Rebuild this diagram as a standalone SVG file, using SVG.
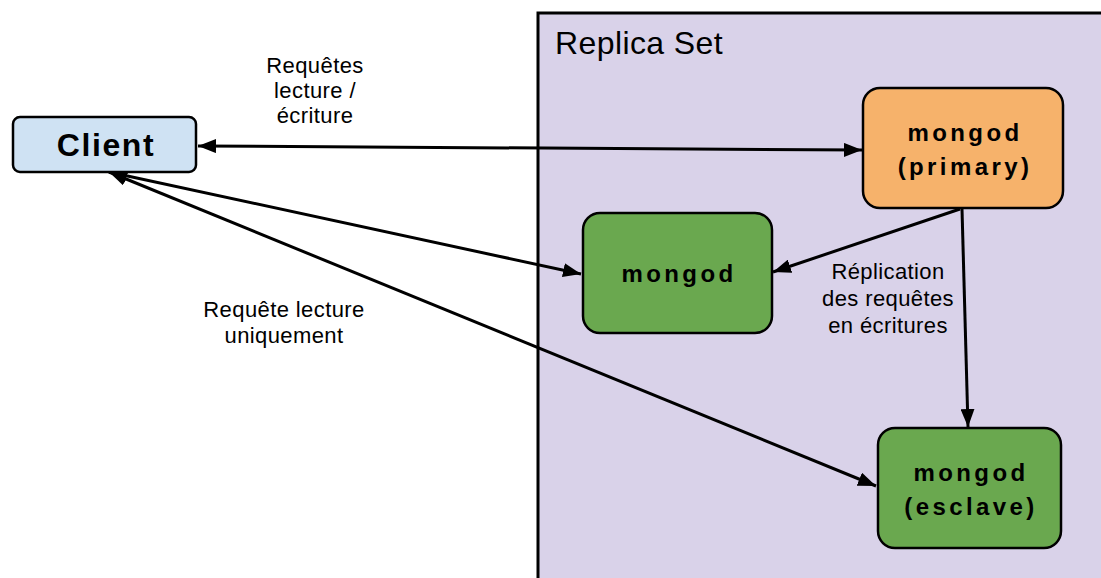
<svg xmlns="http://www.w3.org/2000/svg" width="1101" height="578" viewBox="0 0 1101 578">
  <defs>
    <marker id="arr" viewBox="0 0 18 14" refX="18" refY="7" markerWidth="18" markerHeight="14" markerUnits="userSpaceOnUse" orient="auto-start-reverse">
      <path d="M0,0 L18,7 L0,14 z" fill="#000"/>
    </marker>
    <style>
      .node { stroke: #000; stroke-width: 2.5; }
      .mtext { font-family: "Liberation Sans", Arial, sans-serif; font-weight: bold; font-size: 24px; letter-spacing: 3.4px; text-anchor: middle; fill: #000; }
      .label { font-family: "Liberation Sans", Arial, sans-serif; font-size: 22px; letter-spacing: 0.4px; text-anchor: middle; fill: #000; }
      .conn { stroke: #000; stroke-width: 3; fill: none; }
    </style>
  </defs>
  <rect width="1101" height="578" fill="#fff"/>

  <g id="replica-set">
    <rect x="538" y="13" width="575" height="580" fill="#d9d2e9" stroke="#000" stroke-width="3"/>
    <text x="555" y="54" font-family="'Liberation Sans', Arial, sans-serif" font-size="32" letter-spacing="0.4" fill="#000">Replica Set</text>
  </g>

  <g id="connectors">
    <line class="conn" x1="198" y1="146" x2="862" y2="150" marker-start="url(#arr)" marker-end="url(#arr)"/>
    <line class="conn" x1="109" y1="172" x2="581" y2="274" marker-start="url(#arr)" marker-end="url(#arr)"/>
    <line class="conn" x1="109" y1="172" x2="876" y2="486" marker-start="url(#arr)" marker-end="url(#arr)"/>
    <line class="conn" x1="960" y1="209" x2="773" y2="272" marker-end="url(#arr)"/>
    <line class="conn" x1="962" y1="209" x2="968" y2="427" marker-end="url(#arr)"/>
  </g>

  <g id="client">
    <rect class="node" x="13" y="117" width="183" height="55" rx="7" fill="#cfe2f3"/>
    <text x="106" y="156" font-family="'Liberation Sans', Arial, sans-serif" font-weight="bold" font-size="32" letter-spacing="1.6" text-anchor="middle" fill="#000">Client</text>
  </g>

  <g id="primary">
    <rect class="node" x="863" y="88" width="200" height="120" rx="17" fill="#f6b26b"/>
    <text class="mtext" x="965" y="141">mongod</text>
    <text class="mtext" x="965" y="175">(primary)</text>
  </g>

  <g id="mongod-middle">
    <rect class="node" x="583" y="213" width="189" height="120" rx="17" fill="#6aa84f"/>
    <text class="mtext" x="679" y="282">mongod</text>
  </g>

  <g id="esclave">
    <rect class="node" x="878" y="428" width="183" height="120" rx="17" fill="#6aa84f"/>
    <text class="mtext" x="971" y="481">mongod</text>
    <text class="mtext" x="971" y="515">(esclave)</text>
  </g>

  <g id="labels">
    <text class="label" x="315" y="73">Requêtes</text>
    <text class="label" x="315" y="98">lecture /</text>
    <text class="label" x="315" y="123">écriture</text>
    <text class="label" x="284" y="317">Requête lecture</text>
    <text class="label" x="284" y="343">uniquement</text>
    <text class="label" x="888" y="279">Réplication</text>
    <text class="label" x="888" y="306">des requêtes</text>
    <text class="label" x="888" y="333">en écritures</text>
  </g>
</svg>
